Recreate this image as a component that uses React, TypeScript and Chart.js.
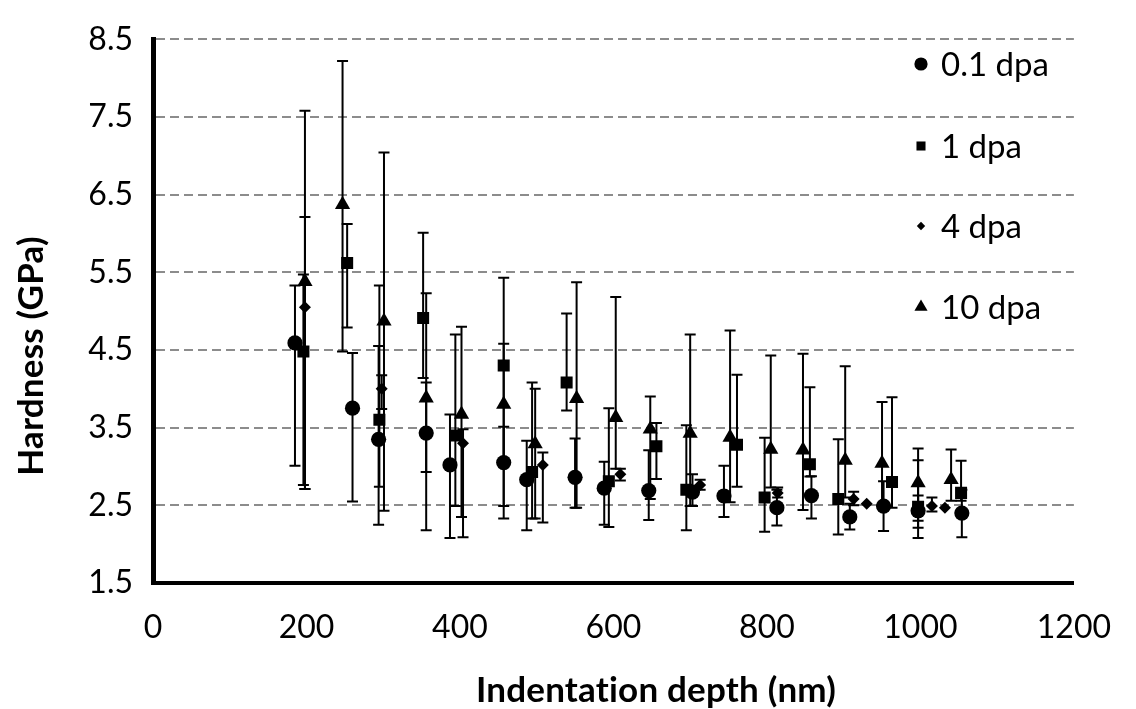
import React, { useEffect, useRef } from 'react';
import { Chart, registerables } from 'chart.js';

Chart.register(...registerables);

// ---------- data ----------
const seriesNames = ['0.1 dpa', '1 dpa', '4 dpa', '10 dpa'];
const xTicks = [0, 200, 400, 600, 800, 1000, 1200];
const yTicks = [1.5, 2.5, 3.5, 4.5, 5.5, 6.5, 7.5, 8.5];

const depth01 = [185, 260, 294, 356, 387, 457, 487, 550, 588, 646, 703, 744, 813, 858, 908, 952, 997, 1054];
const hard01 = [4.59, 3.75, 3.35, 3.43, 3.02, 3.05, 2.83, 2.86, 2.72, 2.69, 2.67, 2.62, 2.47, 2.625, 2.35, 2.49, 2.43, 2.40];
const low01 = [3.01, 2.55, 2.25, 2.93, 2.08, 2.49, 2.18, 2.47, 2.25, 2.31, 2.49, 2.35, 2.24, 2.33, 2.19, 2.17, 2.08, 2.09];
const high01 = [5.33, 4.46, 4.55, 4.08, 3.67, 3.51, 3.33, 3.36, 3.06, 3.21, 2.90, 3.01, 2.70, 2.875, 2.52, 2.81, 2.625, 2.70];

const depth1 = [196, 253, 295, 352, 394, 457, 494, 539, 594, 656, 695, 761, 797, 856, 893, 963, 997, 1053];
const hard1 = [4.48, 5.62, 3.60, 4.91, 3.40, 4.30, 2.93, 4.08, 2.81, 3.26, 2.70, 3.28, 2.60, 3.03, 2.58, 2.80, 2.48, 2.66];
const low1 = [2.76, 4.79, 2.74, 4.14, 2.49, 2.33, 2.33, 3.72, 2.22, 2.84, 2.18, 2.74, 2.16, 2.87, 2.125, 2.47, 2.21, 2.56];
const high1 = [5.47, 6.12, 5.33, 6.01, 4.70, 5.43, 4.08, 4.97, 3.75, 3.56, 3.53, 4.18, 3.37, 4.02, 3.35, 3.89, 3.08, 3.075];

const depth4 = [198, 298, 404, 508, 609, 713, 814, 913, 930, 1015, 1032];
const hard4 = [5.05, 4.00, 3.30, 3.02, 2.90, 2.76, 2.66, 2.58, 2.52, 2.49, 2.47];
const low4 = [2.71, 3.74, 2.09, 2.28, 2.82, 2.70, 2.60, 2.50, 2.52, 2.42, 2.47];
const high4 = [6.21, 4.175, 3.48, 3.18, 2.97, 2.83, 2.73, 2.675, 2.52, 2.60, 2.47];

const depth10 = [198, 247, 301, 356, 402, 457, 498, 552, 603, 648, 700, 752, 805, 847, 902, 950, 997, 1040];
const hard10 = [5.38, 6.37, 4.87, 3.88, 3.67, 3.80, 3.29, 3.875, 3.63, 3.48, 3.425, 3.375, 3.22, 3.21, 3.08, 3.04, 2.79, 2.83];
const low10 = [2.71, 4.48, 2.43, 2.18, 2.35, 3.02, 2.33, 2.47, 2.97, 2.58, 2.49, 2.54, 2.73, 2.44, 2.60, 2.50, 2.30, 2.56];
const high10 = [7.58, 8.22, 7.04, 5.23, 4.80, 4.58, 4.00, 5.37, 5.18, 3.90, 4.70, 4.75, 4.43, 4.45, 4.29, 3.83, 3.23, 3.22];

const pointStyles = ['circle', 'rect', 'rectRot', 'triangle'];
const pointRadii = [7.6, 8.5, 6, 8.8];
const legendRadii = [6.6, 6.4, 4.2, 7.6];

const FONT = 'Lato, "Open Sans", sans-serif';

function build(d: number[], h: number[], lo: number[], hi: number[]) {
  return d.map((x, i) => ({ x, y: h[i], low: lo[i], high: hi[i] }));
}

function drawMarker(ctx: CanvasRenderingContext2D, style: string, r: number, x: number, y: number) {
  ctx.beginPath();
  if (style === 'circle') {
    ctx.arc(x, y, r, 0, Math.PI * 2);
  } else if (style === 'rect') {
    const s = Math.SQRT1_2 * r;
    ctx.rect(x - s, y - s, 2 * s, 2 * s);
  } else if (style === 'rectRot') {
    ctx.moveTo(x, y - r);
    ctx.lineTo(x + r, y);
    ctx.lineTo(x, y + r);
    ctx.lineTo(x - r, y);
    ctx.closePath();
  } else {
    const w = r * Math.sin(Math.PI / 3);
    ctx.moveTo(x, y - r);
    ctx.lineTo(x + w, y + r / 2);
    ctx.lineTo(x - w, y + r / 2);
    ctx.closePath();
  }
  ctx.fill();
}

const errorBarPlugin = {
  id: 'errorBars',
  beforeDatasetsDraw(chart: any) {
    const { ctx, scales } = chart;
    const xs = scales.x;
    const ys = scales.y;
    ctx.save();
    ctx.strokeStyle = '#000';
    ctx.lineWidth = 2;
    const cap = 5.5;
    chart.data.datasets.forEach((ds: any) => {
      ds.data.forEach((p: any) => {
        const px = xs.getPixelForValue(p.x);
        const yl = ys.getPixelForValue(p.low);
        const yh = ys.getPixelForValue(p.high);
        if (Math.abs(yh - yl) < 0.5) return;
        ctx.beginPath();
        ctx.moveTo(px, yl);
        ctx.lineTo(px, yh);
        ctx.moveTo(px - cap, yl);
        ctx.lineTo(px + cap, yl);
        ctx.moveTo(px - cap, yh);
        ctx.lineTo(px + cap, yh);
        ctx.stroke();
      });
    });
    ctx.restore();
  },
};

const decorPlugin = {
  id: 'decor',
  afterDraw(chart: any) {
    const { ctx } = chart;
    ctx.save();
    const rows = [64, 146, 226, 307];
    ctx.font = `33px ${FONT}`;
    ctx.textBaseline = 'middle';
    ctx.textAlign = 'left';
    seriesNames.forEach((name, i) => {
      ctx.fillStyle = '#000';
      drawMarker(ctx, pointStyles[i], legendRadii[i], 921, rows[i]);
      ctx.fillText(name, 941, rows[i] + 1);
    });
    ctx.font = `bold 35px ${FONT}`;
    ctx.textAlign = 'center';
    ctx.fillStyle = '#000';
    try {
      (ctx as any).textRendering = 'optimizeSpeed';
      (ctx as any).letterSpacing = '0.2px';
    } catch (e) {
      /* ignore */
    }
    ctx.fillText('Indentation depth (nm)', 656, 691);
    ctx.translate(32, 356);
    ctx.rotate(-Math.PI / 2);
    ctx.fillText('Hardness (GPa)', 0, 0);
    ctx.restore();
  },
};

export default function App() {
  const ref = useRef<HTMLCanvasElement | null>(null);

  useEffect(() => {
    if (!ref.current) return;
    const sets = [
      build(depth01, hard01, low01, high01),
      build(depth1, hard1, low1, high1),
      build(depth4, hard4, low4, high4),
      build(depth10, hard10, low10, high10),
    ];
    const chart = new Chart(ref.current, {
      type: 'scatter',
      data: {
        datasets: sets.map((data, i) => ({
          label: seriesNames[i],
          data,
          pointStyle: pointStyles[i] as any,
          pointRadius: pointRadii[i],
          backgroundColor: '#000',
          borderColor: '#000',
          borderWidth: 0,
          showLine: false,
        })),
      },
      options: {
        responsive: false,
        animation: false,
        layout: { padding: { left: 0, right: 50, top: 23, bottom: 0 } },
        plugins: {
          legend: { display: false },
          tooltip: { enabled: false },
        },
        scales: {
          x: {
            type: 'linear',
            min: 0,
            max: 1200,
            afterBuildTicks: (s: any) => {
              s.ticks = xTicks.map((v) => ({ value: v }));
            },
            afterFit: (s: any) => {
              s.height = 126;
            },
            grid: { display: false, drawTicks: false },
            border: { display: true, color: '#000', width: 4 },
            ticks: {
              color: '#000',
              padding: 25,
              maxRotation: 0,
              font: { family: FONT, size: 32 },
              callback: (v: any) => String(v),
            },
          },
          y: {
            type: 'linear',
            min: 1.5,
            max: 8.5,
            afterBuildTicks: (s: any) => {
              s.ticks = yTicks.map((v) => ({ value: v }));
            },
            afterFit: (s: any) => {
              s.width = 153;
            },
            grid: { display: true, color: '#8c8c8c', lineWidth: 2, drawTicks: false },
            border: { display: true, color: '#000', width: 5, dash: [9, 5] },
            ticks: {
              color: '#000',
              padding: 20,
              font: { family: FONT, size: 32 },
              callback: (v: any) => Number(v).toFixed(1),
            },
          },
        },
      },
      plugins: [errorBarPlugin, decorPlugin],
    } as any);
    return () => chart.destroy();
  }, []);

  return (
    <div style={{ position: 'fixed', left: 0, top: 0, width: 1136, height: 709, background: '#fff' }}>
      <canvas ref={ref} width={1136} height={709} style={{ width: 1136, height: 709, display: 'block' }} />
    </div>
  );
}
